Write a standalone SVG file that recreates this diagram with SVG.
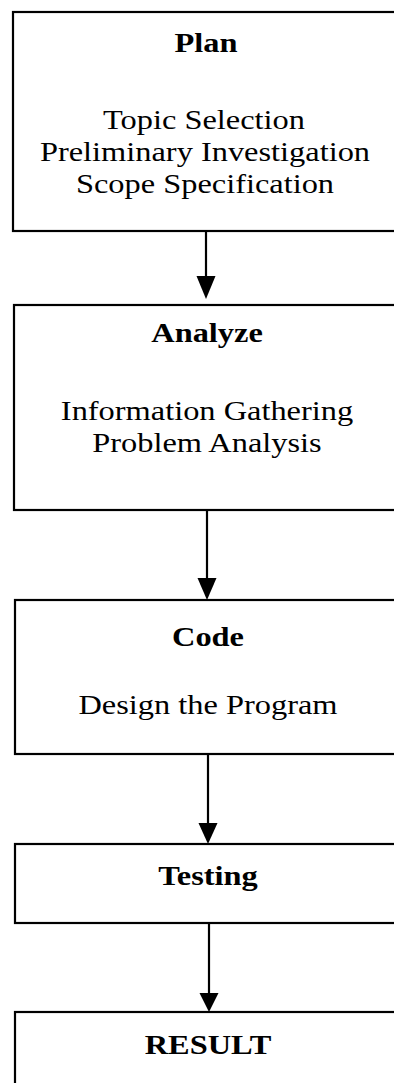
<svg xmlns="http://www.w3.org/2000/svg" width="394" height="1083" viewBox="0 0 394 1083">
<style>
.box{fill:#fff;stroke:#000;stroke-width:2.2}
.t{font-family:"Liberation Serif","Times New Roman",serif;font-size:27px;text-anchor:middle;fill:#000}
.h{font-family:"Liberation Serif","Times New Roman",serif;font-size:27px;font-weight:bold;text-anchor:middle;fill:#000}
.ln{stroke:#000;stroke-width:2.2;fill:none}
</style>
<rect width="394" height="1083" fill="#fff"/>
<g id="plan">
<rect class="box" x="13" y="12" width="400" height="219"/>
<text class="h" transform="translate(206,52) scale(1.2,1)">Plan</text>
<text class="t" transform="translate(204,129) scale(1.2,1)">Topic Selection</text>
<text class="t" transform="translate(205,161) scale(1.2,1)">Preliminary Investigation</text>
<text class="t" transform="translate(205,193) scale(1.2,1)">Scope Specification</text>
</g>
<g id="analyze">
<rect class="box" x="14" y="305" width="400" height="205"/>
<text class="h" transform="translate(207,342) scale(1.2,1)">Analyze</text>
<text class="t" transform="translate(207,420) scale(1.2,1)">Information Gathering</text>
<text class="t" transform="translate(207,452) scale(1.2,1)">Problem Analysis</text>
</g>
<g id="code">
<rect class="box" x="15" y="600" width="400" height="154"/>
<text class="h" transform="translate(208,646) scale(1.2,1)">Code</text>
<text class="t" transform="translate(208,714) scale(1.2,1)">Design the Program</text>
</g>
<g id="testing">
<rect class="box" x="15" y="844" width="400" height="79"/>
<text class="h" transform="translate(208,885) scale(1.2,1)">Testing</text>
</g>
<g id="result">
<rect class="box" x="15" y="1012" width="400" height="100"/>
<text class="h" transform="translate(208,1054) scale(1.2,1)">RESULT</text>
</g>
<g id="connectors">
<line class="ln" x1="206" y1="231" x2="206" y2="283"/>
<path d="M196.5,276 L215.5,276 L206,299 Z"/>
<line class="ln" x1="207" y1="510" x2="207" y2="585"/>
<path d="M197.5,578 L216.5,578 L207,600 Z"/>
<line class="ln" x1="208" y1="754" x2="208" y2="830"/>
<path d="M198.5,823 L217.5,823 L208,844 Z"/>
<line class="ln" x1="209" y1="923" x2="209" y2="1000"/>
<path d="M199.5,993 L218.5,993 L209,1012 Z"/>
</g>
</svg>
